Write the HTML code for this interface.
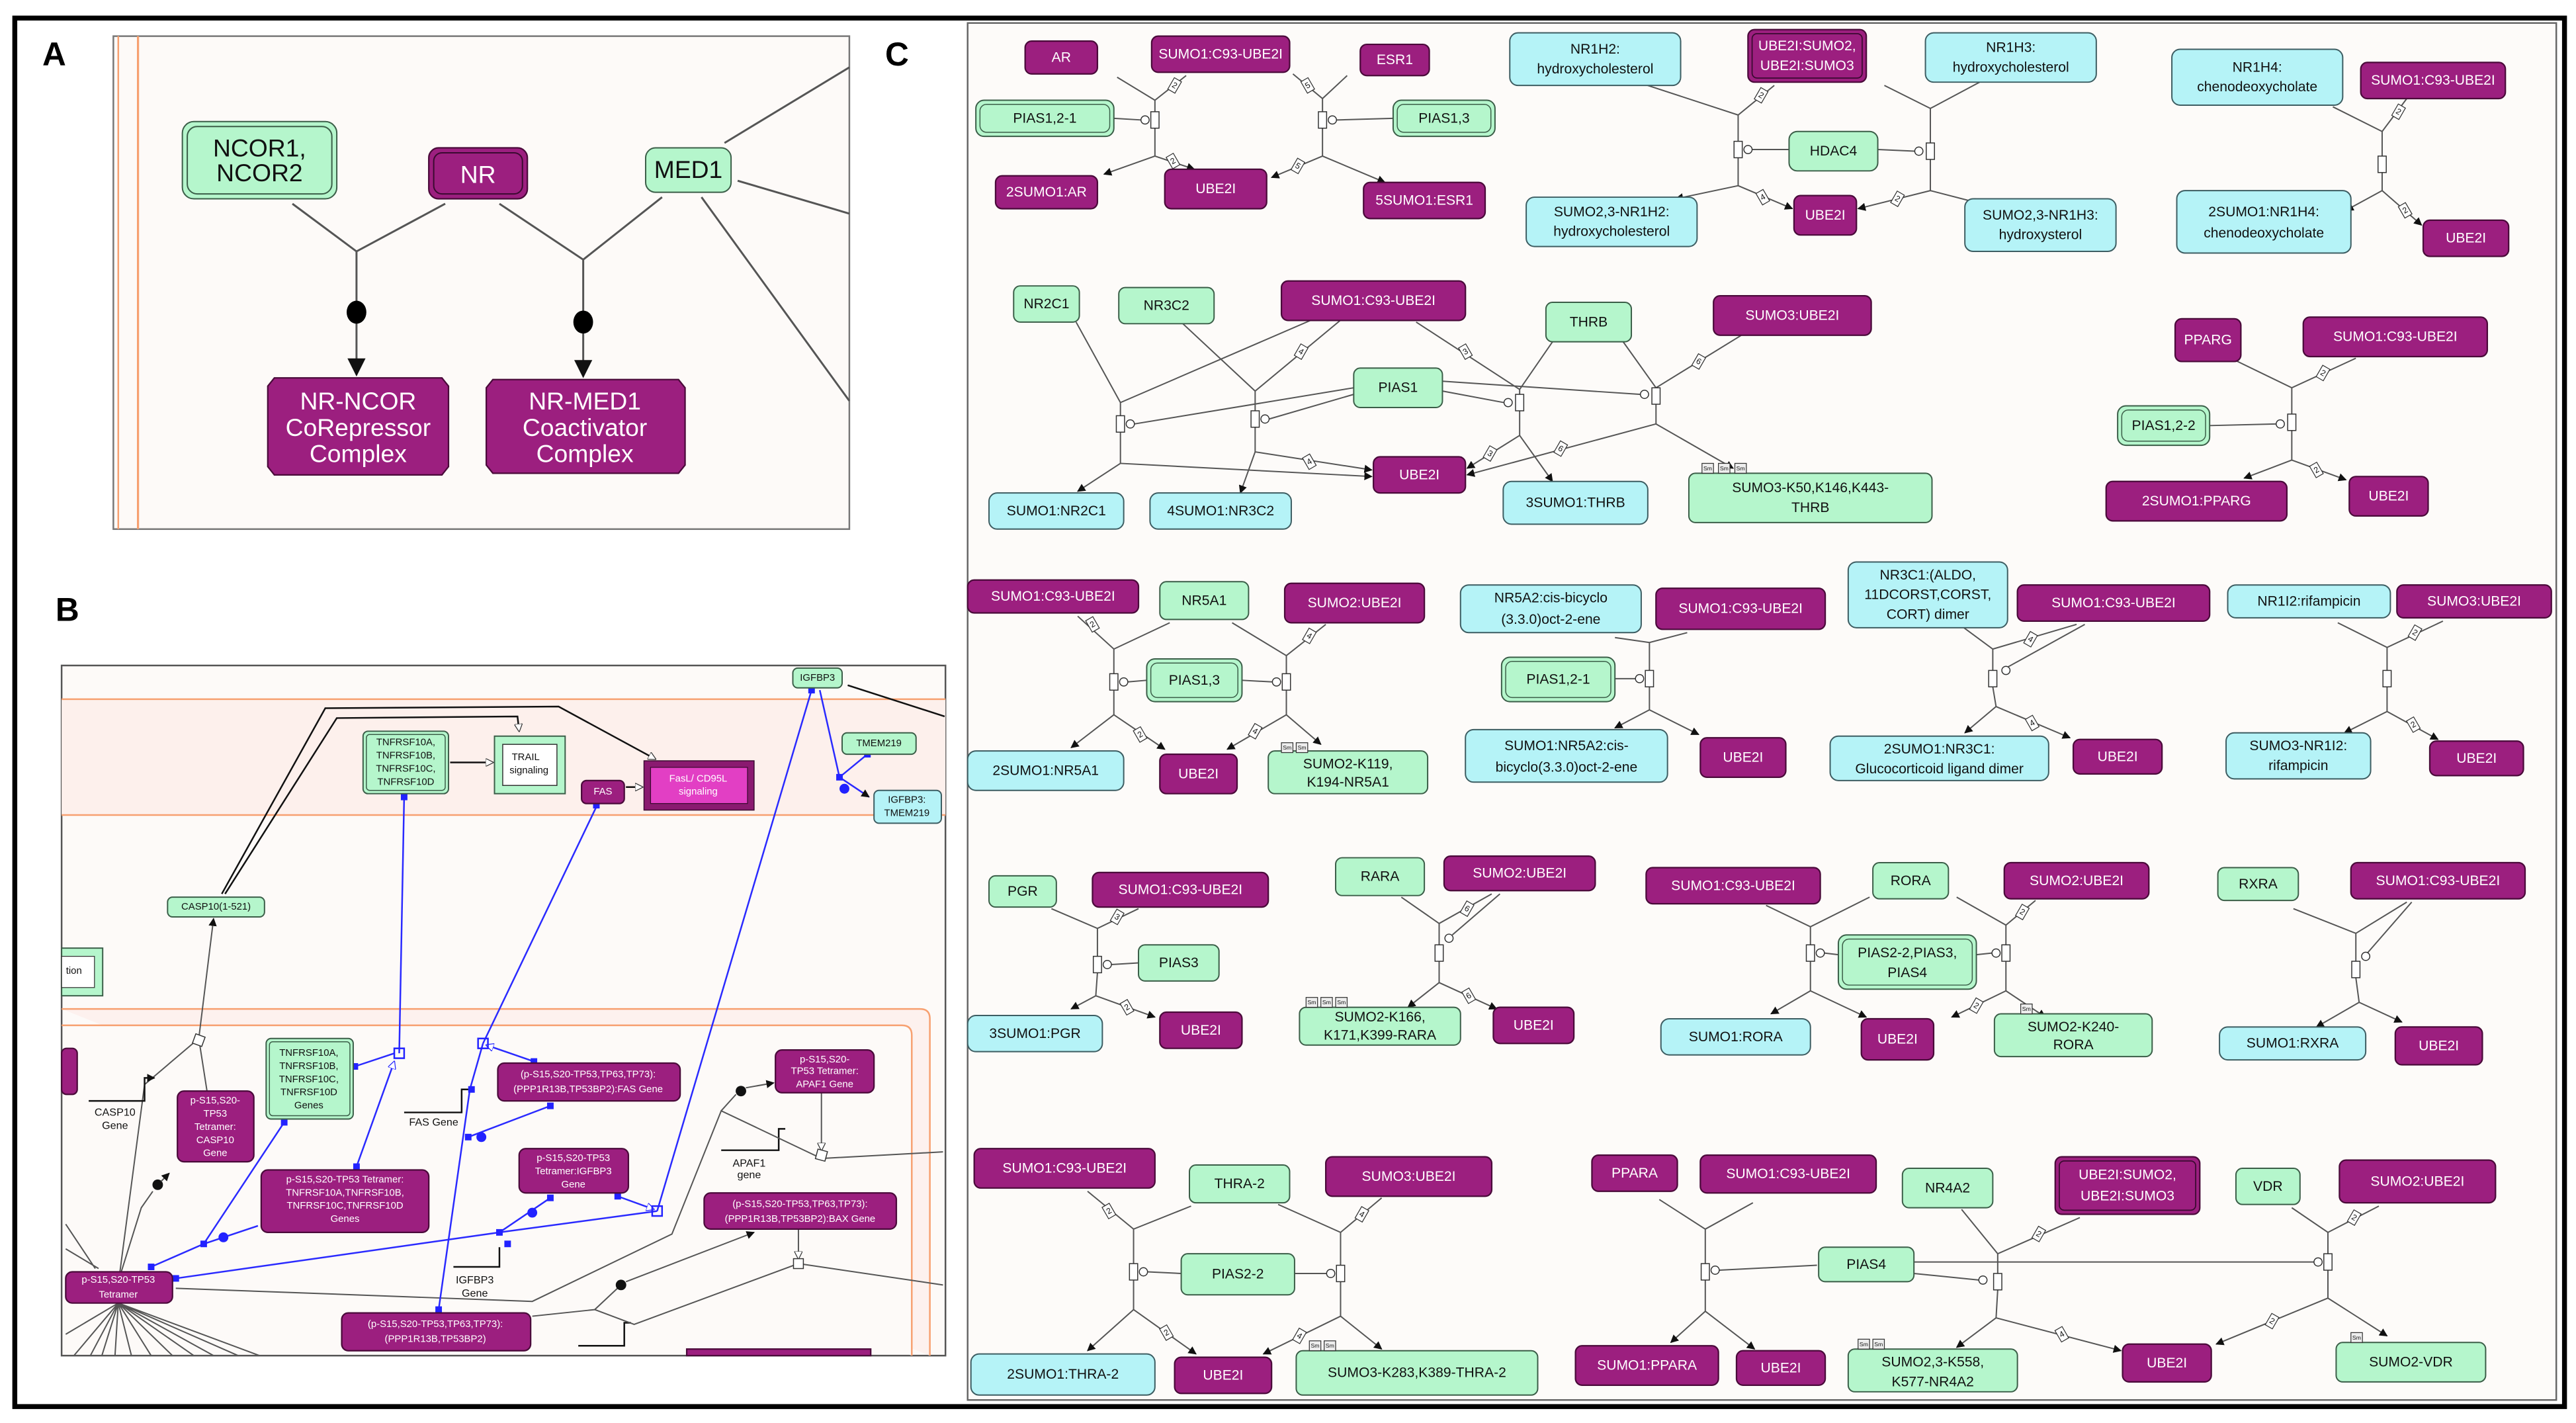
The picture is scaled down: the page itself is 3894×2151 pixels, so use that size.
<!DOCTYPE html>
<html><head><meta charset="utf-8"><style>
html,body{margin:0;padding:0;background:#fff;}
svg{display:block;}
text{font-family:"Liberation Sans Narrow","Liberation Sans",sans-serif;text-anchor:middle;dominant-baseline:central;}
.p{fill:#9c1f7f;stroke:#4a0a3a;stroke-width:.9}
.g{fill:#b5f6cc;stroke:#3b5e48;stroke-width:.8}
.c{fill:#b5f3f7;stroke:#3d5d62;stroke-width:.8}
.tw{fill:#fff;font-size:8.5px}
.tb{fill:#111;font-size:8.5px}
.l{stroke:#555;stroke-width:.8;fill:none}
.k{stroke:#111;stroke-width:1;fill:none}
.bl{stroke:#2a2aff;stroke-width:1;fill:none}
.bx{fill:#fff;stroke:#333;stroke-width:.6}
.ci{fill:#fff;stroke:#333;stroke-width:.6}
.dm{fill:#fff;stroke:#333;stroke-width:.5}
.dt{font-size:5px;fill:#111}
.sm{fill:#eee;stroke:#333;stroke-width:.5}
.smt{font-size:3.5px;fill:#111}
</style></head><body>
<svg width="3894" height="2151" viewBox="0 0 1568 866" preserveAspectRatio="none" xmlns="http://www.w3.org/2000/svg">
<defs>
<marker id="a" viewBox="0 0 10 10" refX="9" refY="5" markerWidth="5" markerHeight="5" markerUnits="userSpaceOnUse" orient="auto"><path d="M0,0L10,5L0,10z" fill="#111"/></marker>
<marker id="aA" viewBox="0 0 10 10" refX="9" refY="5" markerWidth="11" markerHeight="11" markerUnits="userSpaceOnUse" orient="auto"><path d="M0,0L10,5L0,10z" fill="#111"/></marker>
<marker id="o" viewBox="0 0 10 10" refX="9" refY="5" markerWidth="5" markerHeight="5" markerUnits="userSpaceOnUse" orient="auto"><path d="M0,0L10,5L0,10z" fill="#fff" stroke="#333"/></marker>
<marker id="ob" viewBox="0 0 10 10" refX="9" refY="5" markerWidth="5" markerHeight="5" markerUnits="userSpaceOnUse" orient="auto"><path d="M0,0L10,5L0,10z" fill="#fff" stroke="#22f"/></marker>
</defs>
<rect x="0" y="0" width="1568" height="866" fill="#fff"/>
<!-- outer frame -->
<rect x="9" y="11" width="1552" height="845" fill="none" stroke="#000" stroke-width="3"/>

<!-- ===== Panel A ===== -->
<text x="33" y="33" style="font-size:20px;font-weight:bold;font-family:'Liberation Sans',sans-serif" fill="#000">A</text>
<rect x="69" y="22" width="448" height="300" fill="#fdfaf8" stroke="#777" stroke-width="1"/>
<line x1="72" y1="22" x2="72" y2="322" stroke="#f7a070" stroke-width="1"/>
<line x1="84" y1="22" x2="84" y2="322" stroke="#f7a070" stroke-width="1.3"/>
<rect x="111" y="74" width="94" height="47" rx="7" class="g"/>
<rect x="114" y="77" width="88" height="41" rx="6" fill="none" stroke="#3b5e48" stroke-width=".8"/>
<text x="158" y="90" class="tb" style="font-size:15px">NCOR1,</text>
<text x="158" y="105" class="tb" style="font-size:15px">NCOR2</text>
<rect x="261" y="90" width="60" height="31" rx="6" class="p"/>
<rect x="264" y="93" width="54" height="25" rx="5" fill="none" stroke="#3a0a30" stroke-width=".8"/>
<text x="291" y="106" class="tw" style="font-size:15px">NR</text>
<rect x="393" y="90" width="52" height="27" rx="6" class="g"/>
<text x="419" y="103" class="tb" style="font-size:15px">MED1</text>
<path d="M167,230 L269,230 L273,235 L273,284 L269,289 L167,289 L163,284 L163,235Z" class="p"/>
<text x="218" y="244" class="tw" style="font-size:15px">NR-NCOR</text>
<text x="218" y="260" class="tw" style="font-size:15px">CoRepressor</text>
<text x="218" y="276" class="tw" style="font-size:15px">Complex</text>
<path d="M300,231 L413,231 L417,236 L417,283 L413,288 L300,288 L296,283 L296,236Z" class="p"/>
<text x="356" y="244" class="tw" style="font-size:15px">NR-MED1</text>
<text x="356" y="260" class="tw" style="font-size:15px">Coactivator</text>
<text x="356" y="276" class="tw" style="font-size:15px">Complex</text>
<path d="M178,124 L217,153 L271,124 M217,153 L217,228" class="l" style="stroke-width:1.2" marker-end="url(#aA)"/>
<ellipse cx="217" cy="190" rx="6" ry="7" fill="#000"/>
<path d="M304,124 L355,158 L403,120 M355,158 L355,229" class="l" style="stroke-width:1.2" marker-end="url(#aA)"/>
<ellipse cx="355" cy="196" rx="6" ry="7" fill="#000"/>
<path d="M441,87 L517,41 M449,110 L517,130 M427,120 L517,244" class="l" style="stroke-width:1.2"/>
<text x="546" y="33" style="font-size:20px;font-weight:bold;font-family:'Liberation Sans',sans-serif" fill="#000">C</text>

<!-- ===== Panel B ===== -->
<text x="41" y="371" style="font-size:20px;font-weight:bold;font-family:'Liberation Sans',sans-serif" fill="#000">B</text>
<rect x="37.5" y="405" width="538" height="420" fill="#fdfaf8" stroke="#555" stroke-width="1"/>
<rect x="37.5" y="425.5" width="538" height="70.5" fill="#fdf0ec"/>
<line x1="37.5" y1="425.5" x2="575.5" y2="425.5" stroke="#f7a070" stroke-width="1"/>
<line x1="37.5" y1="496" x2="575.5" y2="496" stroke="#f7a070" stroke-width="1"/>
<path d="M37.5,614 L560,614 Q566,614 566,620 L566,825" fill="#fdf1ee" stroke="#f7a070" stroke-width="1"/>
<path d="M37.5,624 L549,624 Q555,624 555,630 L555,825" fill="#fdfaf8" stroke="#f7a070" stroke-width="1"/>
<!-- black connectors -->
<path d="M135,544 L198,431 L340,430 L399,462" class="k" marker-end="url(#o)"/>
<path d="M137,544 L205,437 L315,436 L316,445" class="k" marker-end="url(#o)"/>
<path d="M274,464 L300,464" class="k" marker-end="url(#o)"/>
<path d="M381,479 L391,479" class="k" marker-end="url(#o)"/>
<path d="M516,417 L575,436" class="k"/>
<path d="M121,632 L130,559" class="l" marker-end="url(#a)"/>
<path d="M121,632 L126,664" class="l"/>
<path d="M73,774 L88,660 L121,632" class="l"/>
<path d="M71,783 L86,735 L93,725" class="l"/>
<circle cx="96" cy="721" r="3.2" fill="#111"/>
<path d="M98,719 L103,714" class="l" marker-end="url(#a)"/>
<path d="M54,670 L88,670 L88,656 L94,656" class="k" marker-end="url(#a)"/>
<text x="70" y="677" class="tb" style="font-size:6.5px">CASP10</text><text x="70" y="685" class="tb" style="font-size:6.5px">Gene</text>
<path d="M246,677 L281,677 L281,663 L287,663" class="k"/>
<text x="264" y="683" class="tb" style="font-size:6.5px">FAS Gene</text>
<path d="M276,771 L304,771 L304,759" class="k"/>
<text x="289" y="779" class="tb" style="font-size:6.5px">IGFBP3</text><text x="289" y="787" class="tb" style="font-size:6.5px">Gene</text>
<path d="M439,700 L474,700 L474,687 L478,687" class="k"/>
<text x="456" y="708" class="tb" style="font-size:6.5px">APAF1</text><text x="456" y="715" class="tb" style="font-size:6.5px">gene</text>
<path d="M352,819 L380,819 L380,805 L384,805" class="k"/>
<path d="M107,784 L324,792 L409,751 L439,676 L500,705 L574,701" class="l"/>
<path d="M439,676 L448,666" class="l"/><circle cx="451" cy="664" r="3.2" fill="#111"/>
<path d="M454,662 L471,659" class="l" marker-end="url(#a)"/>
<path d="M500,665 L500,700" class="l" marker-end="url(#o)"/>
<rect x="497" y="700" width="6" height="6" class="bx" transform="rotate(15 500 703)"/>
<path d="M324,801 L362,797 L378,782" class="l"/><circle cx="378" cy="782" r="3.2" fill="#111"/>
<path d="M381,780 L459,750" class="l" marker-end="url(#a)"/>
<path d="M362,797 L386,806 L486,769 L574,782" class="l"/>
<path d="M486,748 L486,766" class="l" marker-end="url(#o)"/>
<rect x="483" y="766" width="6" height="6" class="bx"/>
<path d="M72,793 L40,812 M72,793 L45,825 M72,793 L55,825 M72,793 L62,825 M72,793 L70,825 M72,793 L80,825 M72,793 L92,825 M72,793 L105,825 M72,793 L118,825 M72,793 L130,825 M72,793 L145,825 M72,793 L158,825 M58,772 L40,745 M60,772 L40,760" class="l"/>
<rect x="118" y="630" width="6" height="6" class="bx" transform="rotate(20 121 633)"/>
<!-- blue connectors -->
<path d="M246,485 L243,641" class="bl"/>
<path d="M216,649 L240,641" class="bl"/>
<path d="M217,710 L240,646" class="bl" marker-end="url(#ob)"/>
<path d="M173,683 L124,757 L92,771" class="bl"/>
<path d="M124,757 L157,746" class="bl"/><circle cx="136" cy="753" r="3" fill="#22f"/>
<path d="M107,778 L304,750 L400,737" class="bl"/>
<path d="M304,750 L335,729" class="bl"/><circle cx="324" cy="738" r="3" fill="#22f"/>
<path d="M376,728 L398,736" class="bl" marker-end="url(#ob)"/>
<path d="M363,491 L294,635" class="bl"/>
<path d="M325,646 L296,636" class="bl" marker-end="url(#ob)"/>
<path d="M294,635 L286,663 L267,797" class="bl"/>
<path d="M285,692 L335,673" class="bl"/><circle cx="293" cy="692" r="3" fill="#22f"/>
<path d="M494,420 L400,737" class="bl"/>
<path d="M499,420 L511,473 L528,459" class="bl"/>
<path d="M511,473 L529,485" class="bl" marker-end="url(#a)"/><circle cx="514" cy="480" r="3" fill="#22f"/>
<g fill="#22f"><rect x="244" y="483" width="4" height="4"/><rect x="361" y="488" width="4" height="4"/><rect x="492" y="418" width="4" height="4"/><rect x="214" y="647" width="4" height="4"/><rect x="171" y="681" width="4" height="4"/><rect x="122" y="755" width="4" height="4"/><rect x="90" y="769" width="4" height="4"/><rect x="105" y="776" width="4" height="4"/><rect x="215" y="708" width="4" height="4"/><rect x="302" y="748" width="4" height="4"/><rect x="333" y="727" width="4" height="4"/><rect x="374" y="726" width="4" height="4"/><rect x="323" y="644" width="4" height="4"/><rect x="333" y="671" width="4" height="4"/><rect x="283" y="690" width="4" height="4"/><rect x="265" y="795" width="4" height="4"/><rect x="509" y="471" width="4" height="4"/><rect x="526" y="457" width="4" height="4"/><rect x="285" y="661" width="4" height="4"/><rect x="307" y="755" width="4" height="4"/></g>
<rect x="240" y="638" width="6" height="6" fill="none" stroke="#22f"/>
<rect x="291" y="632" width="6" height="6" fill="none" stroke="#22f"/>
<rect x="397" y="734" width="6" height="6" fill="none" stroke="#22f"/>
<!-- B nodes -->
<rect x="482.6" y="406.6" width="30" height="12" rx="3" class="g"/><text x="497.6" y="412.6" class="tb" style="font-size:6px">IGFBP3</text>
<rect x="221" y="445" width="52" height="38" rx="3" class="g"/><rect x="223" y="447" width="48" height="34" rx="2" fill="none" stroke="#3b5e48" stroke-width=".6"/>
<text x="247" y="452" class="tb" style="font-size:6px">TNFRSF10A,</text><text x="247" y="460" class="tb" style="font-size:6px">TNFRSF10B,</text><text x="247" y="468" class="tb" style="font-size:6px">TNFRSF10C,</text><text x="247" y="476" class="tb" style="font-size:6px">TNFRSF10D</text>
<rect x="301" y="448" width="43" height="35" class="g"/><rect x="306" y="453" width="33" height="25" fill="#fff" stroke="#333" stroke-width=".6"/>
<text x="320" y="461" class="tb" style="font-size:6px">TRAIL</text><text x="322" y="469" class="tb" style="font-size:6px">signaling</text>
<rect x="354" y="475" width="26" height="14" rx="3" class="p"/><text x="367" y="482" class="tw" style="font-size:6px">FAS</text>
<rect x="392" y="463" width="67" height="30" fill="#8a1a70" stroke="#3a0a30" stroke-width=".6"/><rect x="396" y="467" width="59" height="22" fill="#e23fc4" stroke="#3a0a30" stroke-width=".5"/>
<text x="425" y="474" class="tw" style="font-size:6px">FasL/ CD95L</text><text x="425" y="482" class="tw" style="font-size:6px">signaling</text>
<rect x="512.6" y="446" width="45" height="13" rx="3" class="g"/><text x="535" y="452.5" class="tb" style="font-size:6px">TMEM219</text>
<rect x="532" y="481" width="41" height="20" rx="3" class="c"/><text x="552" y="487" class="tb" style="font-size:6px">IGFBP3:</text><text x="552" y="495" class="tb" style="font-size:6px">TMEM219</text>
<rect x="102" y="546" width="59" height="12" rx="3" class="g"/><text x="131.5" y="552" class="tb" style="font-size:6px">CASP10(1-521)</text>
<rect x="37.5" y="577" width="25" height="29" class="g"/><rect x="37.5" y="582" width="20" height="19" fill="#fff" stroke="#333" stroke-width=".5"/><text x="45" y="591" class="tb" style="font-size:6px">tion</text>
<rect x="162" y="632" width="53" height="49" rx="3" class="g"/><rect x="164" y="634" width="49" height="45" rx="2" fill="none" stroke="#3b5e48" stroke-width=".6"/>
<text x="188" y="641" class="tb" style="font-size:6px">TNFRSF10A,</text><text x="188" y="649" class="tb" style="font-size:6px">TNFRSF10B,</text><text x="188" y="657" class="tb" style="font-size:6px">TNFRSF10C,</text><text x="188" y="665" class="tb" style="font-size:6px">TNFRSF10D</text><text x="188" y="673" class="tb" style="font-size:6px">Genes</text>
<rect x="108" y="664" width="46.5" height="43" rx="4" class="p"/>
<text x="131" y="670" class="tw" style="font-size:6px">p-S15,S20-</text><text x="131" y="678" class="tw" style="font-size:6px">TP53</text><text x="131" y="686" class="tw" style="font-size:6px">Tetramer:</text><text x="131" y="694" class="tw" style="font-size:6px">CASP10</text><text x="131" y="702" class="tw" style="font-size:6px">Gene</text>
<rect x="37.5" y="638" width="9.5" height="28" rx="3" class="p"/>
<rect x="159" y="712" width="102" height="38" rx="4" class="p"/>
<text x="210" y="718" class="tw" style="font-size:6px">p-S15,S20-TP53 Tetramer:</text><text x="210" y="726" class="tw" style="font-size:6px">TNFRSF10A,TNFRSF10B,</text><text x="210" y="734" class="tw" style="font-size:6px">TNFRSF10C,TNFRSF10D</text><text x="210" y="742" class="tw" style="font-size:6px">Genes</text>
<rect x="303" y="647" width="111" height="23" rx="4" class="p"/>
<text x="358" y="654" class="tw" style="font-size:6px">(p-S15,S20-TP53,TP63,TP73):</text><text x="358" y="663" class="tw" style="font-size:6px">(PPP1R13B,TP53BP2):FAS Gene</text>
<rect x="316" y="699" width="66.5" height="27" rx="4" class="p"/>
<text x="349" y="705" class="tw" style="font-size:6px">p-S15,S20-TP53</text><text x="349" y="713" class="tw" style="font-size:6px">Tetramer:IGFBP3</text><text x="349" y="721" class="tw" style="font-size:6px">Gene</text>
<rect x="472" y="639" width="60" height="26" rx="4" class="p"/>
<text x="502" y="645" class="tw" style="font-size:6px">p-S15,S20-</text><text x="502" y="652" class="tw" style="font-size:6px">TP53 Tetramer:</text><text x="502" y="660" class="tw" style="font-size:6px">APAF1 Gene</text>
<rect x="428.6" y="726" width="117" height="22" rx="4" class="p"/>
<text x="487" y="733" class="tw" style="font-size:6px">(p-S15,S20-TP53,TP63,TP73):</text><text x="487" y="742" class="tw" style="font-size:6px">(PPP1R13B,TP53BP2):BAX Gene</text>
<rect x="40" y="774" width="65" height="19" rx="4" class="p"/>
<text x="72" y="779" class="tw" style="font-size:6px">p-S15,S20-TP53</text><text x="72" y="788" class="tw" style="font-size:6px">Tetramer</text>
<rect x="208" y="799" width="115" height="23" rx="4" class="p"/>
<text x="265" y="806" class="tw" style="font-size:6px">(p-S15,S20-TP53,TP63,TP73):</text><text x="265" y="815" class="tw" style="font-size:6px">(PPP1R13B,TP53BP2)</text>
<rect x="418" y="821" width="112" height="4" class="p"/>

<!-- ===== Panel C ===== -->
<rect x="589" y="14" width="967" height="838" fill="#fdfbf9" stroke="#666" stroke-width="1"/>

<!-- Row1 connectors -->
<g class="l">
<path d="M680,47 L703,61 L722,46 M703,61 L703,68 M703,78 L703,95"/>
<path d="M678,72 L694.5,73"/>
<path d="M787,45 L805,60 L820,46 M805,60 L805,68 M805,78 L805,95"/>
<path d="M813.5,73 L848,72"/>
<path d="M1003,52 L1058,70 L1080,52 M1058,70 L1058,86 M1058,96 L1058,113"/>
<path d="M1066.5,91 L1089,91 M1143,91 L1165.5,92"/>
<path d="M1147,52 L1175,66 L1205,50 M1175,66 L1175,87 M1175,97 L1175,116"/>
<path d="M1420,65 L1450,80 L1465,60 M1450,80 L1450,95 M1450,105 L1450,116"/>
</g>
<g class="l" marker-end="url(#a)">
<path d="M703,95 L672,106"/><path d="M703,95 L727,103"/>
<path d="M805,95 L774,108"/><path d="M805,95 L843,111"/>
<path d="M1058,113 L1020,121"/><path d="M1058,113 L1091,127"/>
<path d="M1175,116 L1131,127"/><path d="M1175,116 L1206,124"/>
<path d="M1450,116 L1428,128"/><path d="M1450,116 L1474,137"/>
</g>
<rect x="700.5" y="68" width="5" height="10" class="bx"/><circle cx="697" cy="73" r="2.5" class="ci"/>
<rect x="802.5" y="68" width="5" height="10" class="bx"/><circle cx="811" cy="73" r="2.5" class="ci"/>
<rect x="1055.5" y="86" width="5" height="10" class="bx"/><circle cx="1064" cy="91" r="2.5" class="ci"/>
<rect x="1172.5" y="87" width="5" height="10" class="bx"/><circle cx="1168" cy="92" r="2.5" class="ci"/>
<rect x="1447.5" y="95" width="5" height="10" class="bx"/>

<!-- Row2 connectors -->
<g class="l">
<path d="M655,196 L682,245 L800,194 M682,245 L682,253 M682,263 L682,282"/>
<path d="M690.5,258 L824,236"/>
<path d="M720,197 L764,238 L817,194 M764,238 L764,250 M764,260 L764,275"/>
<path d="M772.5,255 L824,240"/>
<path d="M862,196 L925,237 L945,208 M925,237 L925,240 M925,250 L925,265"/>
<path d="M878,238 L915.5,245"/>
<path d="M988,208 L1008,236 L1060,204 M1008,236 L1008,236 M1008,246 L1008,258"/>
<path d="M878,232 L998.5,240"/>
<path d="M1360,219 L1395,236 L1434,218 M1395,236 L1395,252 M1395,262 L1395,280"/>
<path d="M1345,259 L1385.5,258"/>
</g>
<g class="l" marker-end="url(#a)">
<path d="M682,282 L656,299"/><path d="M682,282 L835,290"/>
<path d="M764,275 L755,300"/><path d="M764,275 L835,286"/>
<path d="M925,265 L893,285"/><path d="M925,265 L945,293"/>
<path d="M1008,258 L893,289"/><path d="M1008,258 L1055,285"/>
<path d="M1395,280 L1366,291"/><path d="M1395,280 L1428,292"/>
</g>
<rect x="679.5" y="253" width="5" height="10" class="bx"/><circle cx="688" cy="258" r="2.5" class="ci"/>
<rect x="761.5" y="250" width="5" height="10" class="bx"/><circle cx="770" cy="255" r="2.5" class="ci"/>
<rect x="922.5" y="240" width="5" height="10" class="bx"/><circle cx="918" cy="245" r="2.5" class="ci"/>
<rect x="1005.5" y="236" width="5" height="10" class="bx"/><circle cx="1001" cy="240" r="2.5" class="ci"/>
<rect x="1392.5" y="252" width="5" height="10" class="bx"/><circle cx="1388" cy="258" r="2.5" class="ci"/>

<!-- Row3 connectors -->
<g class="l">
<path d="M656,375 L678,395 L712,379 M678,395 L678,410 M678,420 L678,435"/>
<path d="M698,414 L686.5,415"/>
<path d="M750,379 L783,399 L807,380 M783,399 L783,410 M783,420 L783,435"/>
<path d="M756,414 L774.5,415"/>
<path d="M983,388 L1004,391 L1027,385 M1004,391 L1004,408 M1004,418 L1004,432"/>
<path d="M983,413 L995.5,413"/>
<path d="M1194,381 L1213,395 L1264,380 M1213,395 L1213,408 M1213,418 L1215,430"/>
<path d="M1269,380 L1222,406"/>
<path d="M1423,379 L1453,394 L1487,378 M1453,394 L1453,408 M1453,418 L1453,433"/>
</g>
<g class="l" marker-end="url(#a)">
<path d="M678,435 L652,455"/><path d="M678,435 L709,456"/>
<path d="M783,435 L747,456"/><path d="M783,435 L804,453"/>
<path d="M1004,432 L983,443"/><path d="M1004,432 L1034,447"/>
<path d="M1215,430 L1196,446"/><path d="M1215,430 L1260,449"/>
<path d="M1453,433 L1427,446"/><path d="M1453,433 L1484,450"/>
</g>
<rect x="675.5" y="410" width="5" height="10" class="bx"/><circle cx="684" cy="415" r="2.5" class="ci"/>
<rect x="780.5" y="410" width="5" height="10" class="bx"/><circle cx="777" cy="415" r="2.5" class="ci"/>
<rect x="1001.5" y="408" width="5" height="10" class="bx"/><circle cx="998" cy="413" r="2.5" class="ci"/>
<rect x="1210.5" y="408" width="5" height="10" class="bx"/><circle cx="1221" cy="408" r="2.5" class="ci"/>
<rect x="1450.5" y="408" width="5" height="10" class="bx"/>

<!-- Row4 connectors -->
<g class="l">
<path d="M640,553 L668,565 L693,553 M668,565 L668,582 M668,592 L667,606"/>
<path d="M676.5,587 L693,586"/>
<path d="M853,546 L876,562 L908,544 M876,562 L876,575 M876,585 L876,598"/>
<path d="M913,544 L884,569"/>
<path d="M1075,551 L1102,564 L1138,546 M1102,564 L1102,575 M1102,585 L1102,603"/>
<path d="M1110.5,580 L1119,581 M1203,581 L1212.5,580"/>
<path d="M1191,546 L1221,563 L1239,548 M1221,563 L1221,575 M1221,585 L1221,603"/>
<path d="M1396,553 L1434,568 L1465,549 M1434,568 L1434,585 M1434,595 L1436,610"/>
<path d="M1468,549 L1441,580"/>
</g>
<g class="l" marker-end="url(#a)">
<path d="M667,606 L652,614"/><path d="M667,606 L703,619"/>
<path d="M876,598 L857,613"/><path d="M876,598 L911,614"/>
<path d="M1102,603 L1078,617"/><path d="M1102,603 L1136,619"/>
<path d="M1221,603 L1188,619"/><path d="M1221,603 L1245,619"/>
<path d="M1436,610 L1410,625"/><path d="M1436,610 L1462,622"/>
</g>
<rect x="665.5" y="582" width="5" height="10" class="bx"/><circle cx="674" cy="587" r="2.5" class="ci"/>
<rect x="873.5" y="575" width="5" height="10" class="bx"/><circle cx="882" cy="571" r="2.5" class="ci"/>
<rect x="1099.5" y="575" width="5" height="10" class="bx"/><circle cx="1108" cy="580" r="2.5" class="ci"/>
<rect x="1218.5" y="575" width="5" height="10" class="bx"/><circle cx="1215" cy="580" r="2.5" class="ci"/>
<rect x="1431.5" y="585" width="5" height="10" class="bx"/><circle cx="1440" cy="582" r="2.5" class="ci"/>

<!-- Row5 connectors -->
<g class="l">
<path d="M662,725 L690,748 L725,734 M690,748 L690,769 M690,779 L690,797"/>
<path d="M698.5,774 L719,775"/>
<path d="M778,733 L816,750 L841,729 M816,750 L816,770 M816,780 L816,801"/>
<path d="M788,775 L807.5,775"/>
<path d="M1010,730 L1038,748 L1067,732 M1038,748 L1038,769 M1038,779 L1038,798"/>
<path d="M1046.5,773 L1106,770"/>
<path d="M1194,736 L1216,763 L1266,741 M1216,763 L1216,775 M1216,785 L1215,802"/>
<path d="M1165,775 L1204.5,779"/>
<path d="M1395,735 L1417,750 L1448,734 M1417,750 L1417,763 M1417,773 L1417,790"/>
<path d="M1165,768 L1408.5,768"/>
</g>
<g class="l" marker-end="url(#a)">
<path d="M690,797 L662,822"/><path d="M690,797 L728,824"/>
<path d="M816,801 L769,824"/><path d="M816,801 L841,821"/>
<path d="M1038,798 L1017,817"/><path d="M1038,798 L1068,821"/>
<path d="M1215,802 L1191,820"/><path d="M1215,802 L1291,822"/>
<path d="M1417,790 L1349,818"/><path d="M1417,790 L1453,813"/>
</g>
<rect x="687.5" y="769" width="5" height="10" class="bx"/><circle cx="696" cy="774" r="2.5" class="ci"/>
<rect x="813.5" y="770" width="5" height="10" class="bx"/><circle cx="810" cy="775" r="2.5" class="ci"/>
<rect x="1035.5" y="769" width="5" height="10" class="bx"/><circle cx="1044" cy="773" r="2.5" class="ci"/>
<rect x="1213.5" y="775" width="5" height="10" class="bx"/><circle cx="1207" cy="779" r="2.5" class="ci"/>
<rect x="1414.5" y="763" width="5" height="10" class="bx"/><circle cx="1411" cy="768" r="2.5" class="ci"/>

<!-- diamonds -->
<g>
<g transform="translate(715,52) rotate(30)"><rect x="-2.5" y="-4" width="5" height="8" class="dm"/><text class="dt">2</text></g>
<g transform="translate(714,98) rotate(-30)"><rect x="-2.5" y="-4" width="5" height="8" class="dm"/><text class="dt">2</text></g>
<g transform="translate(796,52) rotate(-30)"><rect x="-2.5" y="-4" width="5" height="8" class="dm"/><text class="dt">5</text></g>
<g transform="translate(790,101) rotate(30)"><rect x="-2.5" y="-4" width="5" height="8" class="dm"/><text class="dt">5</text></g>
<g transform="translate(1072,58) rotate(30)"><rect x="-2.5" y="-4" width="5" height="8" class="dm"/><text class="dt">2</text></g>
<g transform="translate(1073,120) rotate(-30)"><rect x="-2.5" y="-4" width="5" height="8" class="dm"/><text class="dt">4</text></g>
<g transform="translate(1155,121) rotate(30)"><rect x="-2.5" y="-4" width="5" height="8" class="dm"/><text class="dt">2</text></g>
<g transform="translate(1460,68) rotate(30)"><rect x="-2.5" y="-4" width="5" height="8" class="dm"/><text class="dt">2</text></g>
<g transform="translate(1464,128) rotate(-30)"><rect x="-2.5" y="-4" width="5" height="8" class="dm"/><text class="dt">2</text></g>
<g transform="translate(792,214) rotate(30)"><rect x="-2.5" y="-4" width="5" height="8" class="dm"/><text class="dt">4</text></g>
<g transform="translate(797,281) rotate(-30)"><rect x="-2.5" y="-4" width="5" height="8" class="dm"/><text class="dt">4</text></g>
<g transform="translate(892,214) rotate(-30)"><rect x="-2.5" y="-4" width="5" height="8" class="dm"/><text class="dt">3</text></g>
<g transform="translate(907,276) rotate(30)"><rect x="-2.5" y="-4" width="5" height="8" class="dm"/><text class="dt">3</text></g>
<g transform="translate(1034,220) rotate(30)"><rect x="-2.5" y="-4" width="5" height="8" class="dm"/><text class="dt">6</text></g>
<g transform="translate(950,273) rotate(30)"><rect x="-2.5" y="-4" width="5" height="8" class="dm"/><text class="dt">6</text></g>
<g transform="translate(1414,227) rotate(30)"><rect x="-2.5" y="-4" width="5" height="8" class="dm"/><text class="dt">2</text></g>
<g transform="translate(1410,286) rotate(-30)"><rect x="-2.5" y="-4" width="5" height="8" class="dm"/><text class="dt">2</text></g>
<g transform="translate(665,380) rotate(-30)"><rect x="-2.5" y="-4" width="5" height="8" class="dm"/><text class="dt">2</text></g>
<g transform="translate(694,447) rotate(-30)"><rect x="-2.5" y="-4" width="5" height="8" class="dm"/><text class="dt">2</text></g>
<g transform="translate(797,387) rotate(30)"><rect x="-2.5" y="-4" width="5" height="8" class="dm"/><text class="dt">4</text></g>
<g transform="translate(764,445) rotate(30)"><rect x="-2.5" y="-4" width="5" height="8" class="dm"/><text class="dt">4</text></g>
<g transform="translate(1236,389) rotate(30)"><rect x="-2.5" y="-4" width="5" height="8" class="dm"/><text class="dt">4</text></g>
<g transform="translate(1237,440) rotate(-30)"><rect x="-2.5" y="-4" width="5" height="8" class="dm"/><text class="dt">4</text></g>
<g transform="translate(1470,385) rotate(30)"><rect x="-2.5" y="-4" width="5" height="8" class="dm"/><text class="dt">2</text></g>
<g transform="translate(1469,441) rotate(-30)"><rect x="-2.5" y="-4" width="5" height="8" class="dm"/><text class="dt">2</text></g>
<g transform="translate(680,558) rotate(30)"><rect x="-2.5" y="-4" width="5" height="8" class="dm"/><text class="dt">3</text></g>
<g transform="translate(686,613) rotate(-30)"><rect x="-2.5" y="-4" width="5" height="8" class="dm"/><text class="dt">2</text></g>
<g transform="translate(893,553) rotate(30)"><rect x="-2.5" y="-4" width="5" height="8" class="dm"/><text class="dt">6</text></g>
<g transform="translate(894,606) rotate(-30)"><rect x="-2.5" y="-4" width="5" height="8" class="dm"/><text class="dt">6</text></g>
<g transform="translate(1231,555) rotate(30)"><rect x="-2.5" y="-4" width="5" height="8" class="dm"/><text class="dt">2</text></g>
<g transform="translate(1203,612) rotate(30)"><rect x="-2.5" y="-4" width="5" height="8" class="dm"/><text class="dt">2</text></g>
<g transform="translate(675,737) rotate(-30)"><rect x="-2.5" y="-4" width="5" height="8" class="dm"/><text class="dt">2</text></g>
<g transform="translate(710,811) rotate(-30)"><rect x="-2.5" y="-4" width="5" height="8" class="dm"/><text class="dt">2</text></g>
<g transform="translate(829,739) rotate(30)"><rect x="-2.5" y="-4" width="5" height="8" class="dm"/><text class="dt">4</text></g>
<g transform="translate(791,813) rotate(30)"><rect x="-2.5" y="-4" width="5" height="8" class="dm"/><text class="dt">4</text></g>
<g transform="translate(1241,751) rotate(30)"><rect x="-2.5" y="-4" width="5" height="8" class="dm"/><text class="dt">2</text></g>
<g transform="translate(1255,812) rotate(-30)"><rect x="-2.5" y="-4" width="5" height="8" class="dm"/><text class="dt">4</text></g>
<g transform="translate(1433,741) rotate(30)"><rect x="-2.5" y="-4" width="5" height="8" class="dm"/><text class="dt">2</text></g>
<g transform="translate(1383,804) rotate(30)"><rect x="-2.5" y="-4" width="5" height="8" class="dm"/><text class="dt">2</text></g>
</g>

<!-- C nodes row1 -->
<rect x="624" y="25" width="44" height="20" rx="4" class="p"/><text x="646" y="35" class="tw">AR</text>
<rect x="701" y="22" width="84" height="22" rx="4" class="p"/><text x="743" y="33" class="tw">SUMO1:C93-UBE2I</text>
<rect x="828" y="27" width="42" height="19" rx="4" class="p"/><text x="849" y="36.5" class="tw">ESR1</text>
<rect x="594" y="61" width="84" height="22" rx="5" class="g"/><rect x="596.5" y="63.5" width="79" height="17" rx="4" fill="none" stroke="#3b5e48" stroke-width=".6"/><text x="636" y="72" class="tb">PIAS1,2-1</text>
<rect x="848" y="61" width="62" height="22" rx="5" class="g"/><rect x="850.5" y="63.5" width="57" height="17" rx="4" fill="none" stroke="#3b5e48" stroke-width=".6"/><text x="879" y="72" class="tb">PIAS1,3</text>
<rect x="606" y="107" width="62" height="20" rx="4" class="p"/><text x="637" y="117" class="tw">2SUMO1:AR</text>
<rect x="709" y="103" width="62" height="24" rx="4" class="p"/><text x="740" y="115" class="tw">UBE2I</text>
<rect x="830" y="111" width="74" height="22" rx="4" class="p"/><text x="867" y="122" class="tw">5SUMO1:ESR1</text>
<rect x="919" y="20" width="104" height="32" rx="5" class="c"/><text x="971" y="30" class="tb">NR1H2:</text><text x="971" y="42" class="tb">hydroxycholesterol</text>
<rect x="1064" y="18" width="72" height="32" rx="4" class="p"/><rect x="1066.5" y="20.5" width="67" height="27" rx="3" fill="none" stroke="#3a0a30" stroke-width=".7"/><text x="1100" y="28" class="tw">UBE2I:SUMO2,</text><text x="1100" y="40" class="tw">UBE2I:SUMO3</text>
<rect x="1172" y="20" width="104" height="30" rx="5" class="c"/><text x="1224" y="29" class="tb">NR1H3:</text><text x="1224" y="41" class="tb">hydroxycholesterol</text>
<rect x="1089" y="80" width="54" height="24" rx="5" class="g"/><text x="1116" y="92" class="tb">HDAC4</text>
<rect x="929" y="120" width="104" height="30" rx="5" class="c"/><text x="981" y="129" class="tb">SUMO2,3-NR1H2:</text><text x="981" y="141" class="tb">hydroxycholesterol</text>
<rect x="1092" y="119" width="38" height="24" rx="4" class="p"/><text x="1111" y="131" class="tw">UBE2I</text>
<rect x="1196" y="121" width="92" height="32" rx="5" class="c"/><text x="1242" y="131" class="tb">SUMO2,3-NR1H3:</text><text x="1242" y="143" class="tb">hydroxysterol</text>
<rect x="1322" y="30" width="104" height="34" rx="5" class="c"/><text x="1374" y="41" class="tb">NR1H4:</text><text x="1374" y="53" class="tb">chenodeoxycholate</text>
<rect x="1437" y="38" width="88" height="22" rx="4" class="p"/><text x="1481" y="49" class="tw">SUMO1:C93-UBE2I</text>
<rect x="1325" y="116" width="106" height="38" rx="5" class="c"/><text x="1378" y="129" class="tb">2SUMO1:NR1H4:</text><text x="1378" y="142" class="tb">chenodeoxycholate</text>
<rect x="1475" y="134" width="52" height="22" rx="4" class="p"/><text x="1501" y="145" class="tw">UBE2I</text>

<!-- row2 -->
<rect x="617" y="174" width="40" height="22" rx="4" class="g"/><text x="637" y="185" class="tb">NR2C1</text>
<rect x="681" y="175" width="58" height="22" rx="4" class="g"/><text x="710" y="186" class="tb">NR3C2</text>
<rect x="780" y="171" width="112" height="24" rx="4" class="p"/><text x="836" y="183" class="tw">SUMO1:C93-UBE2I</text>
<rect x="941" y="184" width="52" height="24" rx="4" class="g"/><text x="967" y="196" class="tb">THRB</text>
<rect x="1043" y="180" width="96" height="24" rx="4" class="p"/><text x="1091" y="192" class="tw">SUMO3:UBE2I</text>
<rect x="824" y="224" width="54" height="24" rx="4" class="g"/><text x="851" y="236" class="tb">PIAS1</text>
<rect x="836" y="278" width="56" height="22" rx="4" class="p"/><text x="864" y="289" class="tw">UBE2I</text>
<rect x="602" y="300" width="82" height="22" rx="5" class="c"/><text x="643" y="311" class="tb">SUMO1:NR2C1</text>
<rect x="700" y="300" width="86" height="22" rx="5" class="c"/><text x="743" y="311" class="tb">4SUMO1:NR3C2</text>
<rect x="915" y="293" width="88" height="26" rx="5" class="c"/><text x="959" y="306" class="tb">3SUMO1:THRB</text>
<rect x="1028" y="288" width="148" height="30" rx="4" class="g"/><text x="1102" y="297" class="tb">SUMO3-K50,K146,K443-</text><text x="1102" y="309" class="tb">THRB</text>
<g><rect x="1036" y="282" width="7" height="6" class="sm"/><rect x="1046" y="282" width="7" height="6" class="sm"/><rect x="1056" y="282" width="7" height="6" class="sm"/><text x="1039.5" y="285" class="smt">Sm</text><text x="1049.5" y="285" class="smt">Sm</text><text x="1059.5" y="285" class="smt">Sm</text></g>
<rect x="1324" y="194" width="40" height="26" rx="4" class="p"/><text x="1344" y="207" class="tw">PPARG</text>
<rect x="1402" y="193" width="112" height="24" rx="4" class="p"/><text x="1458" y="205" class="tw">SUMO1:C93-UBE2I</text>
<rect x="1289" y="247" width="56" height="24" rx="5" class="g"/><rect x="1291.5" y="249.5" width="51" height="19" rx="4" fill="none" stroke="#3b5e48" stroke-width=".6"/><text x="1317" y="259" class="tb">PIAS1,2-2</text>
<rect x="1282" y="293" width="110" height="24" rx="4" class="p"/><text x="1337" y="305" class="tw">2SUMO1:PPARG</text>
<rect x="1430" y="290" width="48" height="24" rx="4" class="p"/><text x="1454" y="302" class="tw">UBE2I</text>

<!-- row3 -->
<rect x="589" y="353" width="104" height="20" rx="4" class="p"/><text x="641" y="363" class="tw">SUMO1:C93-UBE2I</text>
<rect x="706" y="354" width="54" height="23" rx="4" class="g"/><text x="733" y="365.5" class="tb">NR5A1</text>
<rect x="782" y="355" width="85" height="24" rx="4" class="p"/><text x="824.5" y="367" class="tw">SUMO2:UBE2I</text>
<rect x="698" y="401" width="58" height="26" rx="5" class="g"/><rect x="700.5" y="403.5" width="53" height="21" rx="4" fill="none" stroke="#3b5e48" stroke-width=".6"/><text x="727" y="414" class="tb">PIAS1,3</text>
<rect x="589" y="457" width="95" height="24" rx="5" class="c"/><text x="636.5" y="469" class="tb">2SUMO1:NR5A1</text>
<rect x="706" y="459" width="47" height="24" rx="4" class="p"/><text x="729.5" y="471" class="tw">UBE2I</text>
<rect x="772" y="457" width="97" height="26" rx="4" class="g"/><text x="820.5" y="465" class="tb">SUMO2-K119,</text><text x="820.5" y="476" class="tb">K194-NR5A1</text>
<g><rect x="780" y="452" width="7" height="6" class="sm"/><rect x="789" y="452" width="7" height="6" class="sm"/><text x="783.5" y="455" class="smt">Sm</text><text x="792.5" y="455" class="smt">Sm</text></g>
<rect x="889" y="356" width="110" height="29" rx="5" class="c"/><text x="944" y="364" class="tb">NR5A2:cis-bicyclo</text><text x="944" y="377" class="tb">(3.3.0)oct-2-ene</text>
<rect x="1008" y="358" width="103" height="25" rx="4" class="p"/><text x="1059.5" y="370.5" class="tw">SUMO1:C93-UBE2I</text>
<rect x="914" y="400" width="69" height="27" rx="5" class="g"/><rect x="916.5" y="402.5" width="64" height="22" rx="4" fill="none" stroke="#3b5e48" stroke-width=".6"/><text x="948.5" y="413.5" class="tb">PIAS1,2-1</text>
<rect x="892" y="444" width="123" height="32" rx="5" class="c"/><text x="953.5" y="454" class="tb">SUMO1:NR5A2:cis-</text><text x="953.5" y="467" class="tb">bicyclo(3.3.0)oct-2-ene</text>
<rect x="1035" y="449" width="52" height="24" rx="4" class="p"/><text x="1061" y="461" class="tw">UBE2I</text>
<rect x="1125" y="342" width="97" height="40" rx="5" class="c"/><text x="1173.5" y="350" class="tb">NR3C1:(ALDO,</text><text x="1173.5" y="362" class="tb">11DCORST,CORST,</text><text x="1173.5" y="374" class="tb">CORT) dimer</text>
<rect x="1228" y="356" width="117" height="22" rx="4" class="p"/><text x="1286.5" y="367" class="tw">SUMO1:C93-UBE2I</text>
<rect x="1114" y="448" width="133" height="27" rx="5" class="c"/><text x="1180.5" y="456" class="tb">2SUMO1:NR3C1:</text><text x="1180.5" y="468" class="tb">Glucocorticoid ligand dimer</text>
<rect x="1262" y="450" width="54" height="21" rx="4" class="p"/><text x="1289" y="460.5" class="tw">UBE2I</text>
<rect x="1356" y="356" width="99" height="20" rx="5" class="c"/><text x="1405.5" y="366" class="tb">NR1I2:rifampicin</text>
<rect x="1459" y="356" width="94" height="20" rx="4" class="p"/><text x="1506" y="366" class="tw">SUMO3:UBE2I</text>
<rect x="1355" y="446" width="88" height="28" rx="5" class="c"/><text x="1399" y="454" class="tb">SUMO3-NR1I2:</text><text x="1399" y="466" class="tb">rifampicin</text>
<rect x="1479" y="451" width="57" height="21" rx="4" class="p"/><text x="1507.5" y="461.5" class="tw">UBE2I</text>

<!-- row4 -->
<rect x="602" y="533" width="41" height="19" rx="4" class="g"/><text x="622.5" y="542.5" class="tb">PGR</text>
<rect x="665" y="531" width="107" height="21" rx="4" class="p"/><text x="718.5" y="541.5" class="tw">SUMO1:C93-UBE2I</text>
<rect x="693" y="575" width="49" height="22" rx="4" class="g"/><text x="717.5" y="586" class="tb">PIAS3</text>
<rect x="589" y="618" width="82" height="22" rx="5" class="c"/><text x="630" y="629" class="tb">3SUMO1:PGR</text>
<rect x="706" y="616" width="50" height="22" rx="4" class="p"/><text x="731" y="627" class="tw">UBE2I</text>
<rect x="813" y="522" width="54" height="23" rx="4" class="g"/><text x="840" y="533.5" class="tb">RARA</text>
<rect x="879" y="521" width="92" height="21" rx="4" class="p"/><text x="925" y="531.5" class="tw">SUMO2:UBE2I</text>
<rect x="791" y="613" width="98" height="23" rx="4" class="g"/><text x="840" y="619" class="tb">SUMO2-K166,</text><text x="840" y="630" class="tb">K171,K399-RARA</text>
<g><rect x="795" y="607" width="7" height="6" class="sm"/><rect x="804" y="607" width="7" height="6" class="sm"/><rect x="813" y="607" width="7" height="6" class="sm"/><text x="798.5" y="610" class="smt">Sm</text><text x="807.5" y="610" class="smt">Sm</text><text x="816.5" y="610" class="smt">Sm</text></g>
<rect x="909" y="613" width="49" height="22" rx="4" class="p"/><text x="933.5" y="624" class="tw">UBE2I</text>
<rect x="1002" y="528" width="106" height="22" rx="4" class="p"/><text x="1055" y="539" class="tw">SUMO1:C93-UBE2I</text>
<rect x="1140" y="525" width="46" height="22" rx="4" class="g"/><text x="1163" y="536" class="tb">RORA</text>
<rect x="1220" y="525" width="88" height="22" rx="4" class="p"/><text x="1264" y="536" class="tw">SUMO2:UBE2I</text>
<rect x="1119" y="569" width="84" height="33" rx="5" class="g"/><rect x="1121.5" y="571.5" width="79" height="28" rx="4" fill="none" stroke="#3b5e48" stroke-width=".6"/><text x="1161" y="580" class="tb">PIAS2-2,PIAS3,</text><text x="1161" y="592" class="tb">PIAS4</text>
<rect x="1011" y="620" width="91" height="22" rx="5" class="c"/><text x="1056.5" y="631" class="tb">SUMO1:RORA</text>
<rect x="1133" y="620" width="44" height="25" rx="4" class="p"/><text x="1155" y="632.5" class="tw">UBE2I</text>
<rect x="1214" y="617" width="96" height="26" rx="4" class="g"/><text x="1262" y="625" class="tb">SUMO2-K240-</text><text x="1262" y="636" class="tb">RORA</text>
<g><rect x="1230" y="611" width="7" height="6" class="sm"/><text x="1233.5" y="614" class="smt">Sm</text></g>
<rect x="1350" y="528" width="49" height="20" rx="4" class="g"/><text x="1374.5" y="538" class="tb">RXRA</text>
<rect x="1431" y="525" width="106" height="22" rx="4" class="p"/><text x="1484" y="536" class="tw">SUMO1:C93-UBE2I</text>
<rect x="1351" y="625" width="89" height="20" rx="5" class="c"/><text x="1395.5" y="635" class="tb">SUMO1:RXRA</text>
<rect x="1458" y="625" width="53" height="23" rx="4" class="p"/><text x="1484.5" y="636.5" class="tw">UBE2I</text>

<!-- row5 -->
<rect x="593" y="699" width="110" height="24" rx="4" class="p"/><text x="648" y="711" class="tw">SUMO1:C93-UBE2I</text>
<rect x="724" y="709" width="61" height="23" rx="4" class="g"/><text x="754.5" y="720.5" class="tb">THRA-2</text>
<rect x="807" y="704" width="101" height="24" rx="4" class="p"/><text x="857.5" y="716" class="tw">SUMO3:UBE2I</text>
<rect x="719" y="763" width="69" height="25" rx="4" class="g"/><text x="753.5" y="775.5" class="tb">PIAS2-2</text>
<rect x="591" y="824" width="112" height="25" rx="5" class="c"/><text x="647" y="836.5" class="tb">2SUMO1:THRA-2</text>
<rect x="715" y="826" width="59" height="22" rx="4" class="p"/><text x="744.5" y="837" class="tw">UBE2I</text>
<rect x="789" y="822" width="147" height="27" rx="4" class="g"/><text x="862.5" y="835.5" class="tb">SUMO3-K283,K389-THRA-2</text>
<g><rect x="797" y="816" width="7" height="6" class="sm"/><rect x="806" y="816" width="7" height="6" class="sm"/><text x="800.5" y="819" class="smt">Sm</text><text x="809.5" y="819" class="smt">Sm</text></g>
<rect x="969" y="703" width="52" height="22" rx="4" class="p"/><text x="995" y="714" class="tw">PPARA</text>
<rect x="1035" y="703" width="107" height="23" rx="4" class="p"/><text x="1088.5" y="714.5" class="tw">SUMO1:C93-UBE2I</text>
<rect x="1107" y="759" width="58" height="21" rx="4" class="g"/><text x="1136" y="769.5" class="tb">PIAS4</text>
<rect x="959" y="819" width="87" height="24" rx="4" class="p"/><text x="1002.5" y="831" class="tw">SUMO1:PPARA</text>
<rect x="1057" y="822" width="54" height="21" rx="4" class="p"/><text x="1084" y="832.5" class="tw">UBE2I</text>
<rect x="1158" y="711" width="55" height="24" rx="4" class="g"/><text x="1185.5" y="723" class="tb">NR4A2</text>
<rect x="1251" y="704" width="88" height="35" rx="4" class="p"/><rect x="1253.5" y="706.5" width="83" height="30" rx="3" fill="none" stroke="#3a0a30" stroke-width=".7"/><text x="1295" y="715" class="tw">UBE2I:SUMO2,</text><text x="1295" y="728" class="tw">UBE2I:SUMO3</text>
<rect x="1125" y="821" width="103" height="26" rx="4" class="g"/><text x="1176.5" y="829" class="tb">SUMO2,3-K558,</text><text x="1176.5" y="841" class="tb">K577-NR4A2</text>
<g><rect x="1131" y="815" width="7" height="6" class="sm"/><rect x="1140" y="815" width="7" height="6" class="sm"/><text x="1134.5" y="818" class="smt">Sm</text><text x="1143.5" y="818" class="smt">Sm</text></g>
<rect x="1292" y="818" width="54" height="23" rx="4" class="p"/><text x="1319" y="829.5" class="tw">UBE2I</text>
<rect x="1361" y="711" width="39" height="22" rx="4" class="g"/><text x="1380.5" y="722" class="tb">VDR</text>
<rect x="1424" y="706" width="95" height="26" rx="4" class="p"/><text x="1471.5" y="719" class="tw">SUMO2:UBE2I</text>
<rect x="1422" y="817" width="91" height="24" rx="4" class="g"/><text x="1467.5" y="829" class="tb">SUMO2-VDR</text>
<g><rect x="1431" y="811" width="7" height="6" class="sm"/><text x="1434.5" y="814" class="smt">Sm</text></g>
</svg>
</body></html>
